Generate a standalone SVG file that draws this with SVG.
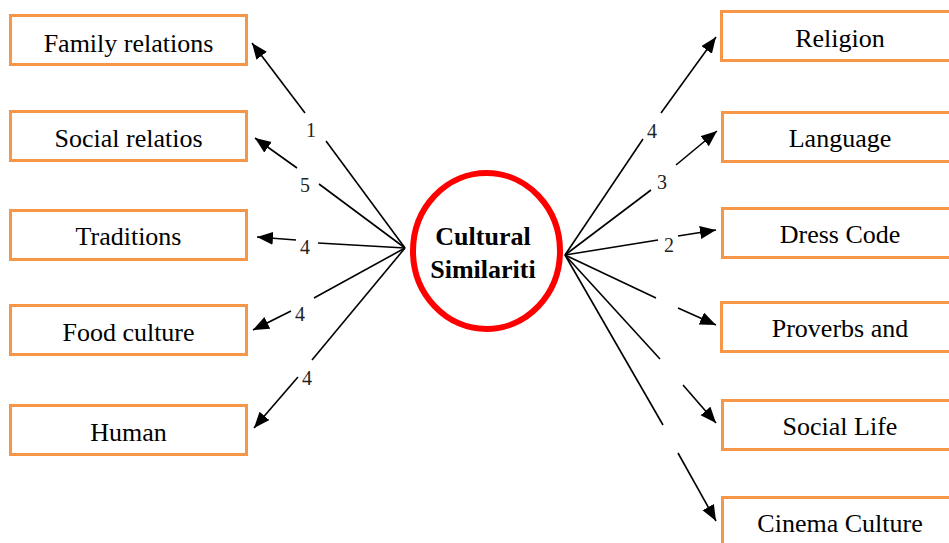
<svg xmlns="http://www.w3.org/2000/svg" width="949" height="543" viewBox="0 0 949 543">
  <style>
    .box { fill: #ffffff; stroke: #F79646; stroke-width: 3; }
    .lbl { font-family: "Liberation Serif", "Times New Roman", serif; font-size: 26px; fill: #000; text-anchor: middle; }
    .num { font-family: "Liberation Serif", "Times New Roman", serif; font-size: 20px; fill: #222; text-anchor: middle; }
    .ln { stroke: #000; stroke-width: 1.6; fill: none; }
    .arr { marker-end: url(#head); }
    .hub { fill: #ffffff; stroke: #FF0000; stroke-width: 6; }
    .hubtxt { font-family: "Liberation Serif", "Times New Roman", serif; font-size: 26px; font-weight: bold; fill: #000; text-anchor: middle; }
  </style>
  <defs>
    <marker id="head" markerUnits="userSpaceOnUse" markerWidth="18" markerHeight="14" refX="16" refY="6.5" orient="auto">
      <path d="M0,0 L16,6.5 L0,13 Z" fill="#000"/>
    </marker>
  </defs>
  <rect width="949" height="543" fill="#ffffff"/>

  <!-- connectors -->
  <g id="connectors">
    <!-- left side -->
    <line class="ln" x1="405" y1="248" x2="326" y2="141"/>
    <line class="ln arr" x1="305" y1="113" x2="252" y2="43"/>
    <text class="num" x="311" y="137">1</text>

    <line class="ln" x1="405" y1="248" x2="319" y2="184"/>
    <line class="ln arr" x1="297" y1="168" x2="255" y2="138"/>
    <text class="num" x="305" y="192">5</text>

    <line class="ln" x1="405" y1="248" x2="318" y2="243"/>
    <line class="ln arr" x1="296" y1="240" x2="257" y2="237"/>
    <text class="num" x="305" y="254">4</text>

    <line class="ln" x1="405" y1="248" x2="314" y2="298"/>
    <line class="ln arr" x1="291" y1="311" x2="253" y2="330"/>
    <text class="num" x="300" y="321">4</text>

    <line class="ln" x1="405" y1="248" x2="312" y2="360"/>
    <line class="ln arr" x1="298" y1="377" x2="254" y2="428"/>
    <text class="num" x="307" y="385">4</text>

    <!-- right side -->
    <line class="ln" x1="565" y1="255" x2="643" y2="139"/>
    <line class="ln arr" x1="661" y1="113" x2="716" y2="37"/>
    <text class="num" x="652" y="138">4</text>

    <line class="ln" x1="565" y1="255" x2="651" y2="190"/>
    <line class="ln arr" x1="676" y1="165" x2="717" y2="131"/>
    <text class="num" x="662" y="189">3</text>

    <line class="ln" x1="565" y1="255" x2="658" y2="240"/>
    <line class="ln arr" x1="678" y1="236" x2="716" y2="230"/>
    <text class="num" x="669" y="252">2</text>

    <line class="ln" x1="565" y1="255" x2="656" y2="298"/>
    <line class="ln arr" x1="678" y1="308" x2="716" y2="325"/>

    <line class="ln" x1="565" y1="255" x2="660" y2="359"/>
    <line class="ln arr" x1="683" y1="385" x2="716" y2="423"/>

    <line class="ln" x1="565" y1="255" x2="663" y2="425"/>
    <line class="ln arr" x1="678" y1="453" x2="716" y2="521"/>
  </g>

  <!-- hub -->
  <g id="cultural-similarities">
    <ellipse class="hub" cx="486.5" cy="251" rx="73.5" ry="78"/>
    <text class="hubtxt" x="483" y="245">Cultural</text>
    <text class="hubtxt" x="483" y="278">Similariti</text>
  </g>

  <!-- left nodes -->
  <g id="family-relations">
    <rect class="box" x="10.5" y="15.5" width="236" height="49"/>
    <text class="lbl" x="128.5" y="52">Family relations</text>
  </g>
  <g id="social-relations">
    <rect class="box" x="10.5" y="111.5" width="236" height="49"/>
    <text class="lbl" x="128.5" y="147">Social relatios</text>
  </g>
  <g id="traditions">
    <rect class="box" x="10.5" y="210.5" width="236" height="49"/>
    <text class="lbl" x="128.5" y="245">Traditions</text>
  </g>
  <g id="food-culture">
    <rect class="box" x="10.5" y="305.5" width="236" height="49"/>
    <text class="lbl" x="128.5" y="341">Food culture</text>
  </g>
  <g id="human">
    <rect class="box" x="10.5" y="405.5" width="236" height="49"/>
    <text class="lbl" x="128.5" y="441">Human</text>
  </g>

  <!-- right nodes -->
  <g id="religion">
    <rect class="box" x="721.5" y="11.5" width="240" height="49"/>
    <text class="lbl" x="840" y="47">Religion</text>
  </g>
  <g id="language">
    <rect class="box" x="722.5" y="112.5" width="240" height="49"/>
    <text class="lbl" x="840" y="147">Language</text>
  </g>
  <g id="dress-code">
    <rect class="box" x="722.5" y="208.5" width="240" height="49"/>
    <text class="lbl" x="840" y="243">Dress Code</text>
  </g>
  <g id="proverbs">
    <rect class="box" x="721.5" y="302.5" width="240" height="49"/>
    <text class="lbl" x="840" y="337">Proverbs and</text>
  </g>
  <g id="social-life">
    <rect class="box" x="722.5" y="400.5" width="240" height="49"/>
    <text class="lbl" x="840" y="435">Social Life</text>
  </g>
  <g id="cinema-culture">
    <rect class="box" x="722.5" y="497.5" width="240" height="60"/>
    <text class="lbl" x="840" y="532">Cinema Culture</text>
  </g>
</svg>
